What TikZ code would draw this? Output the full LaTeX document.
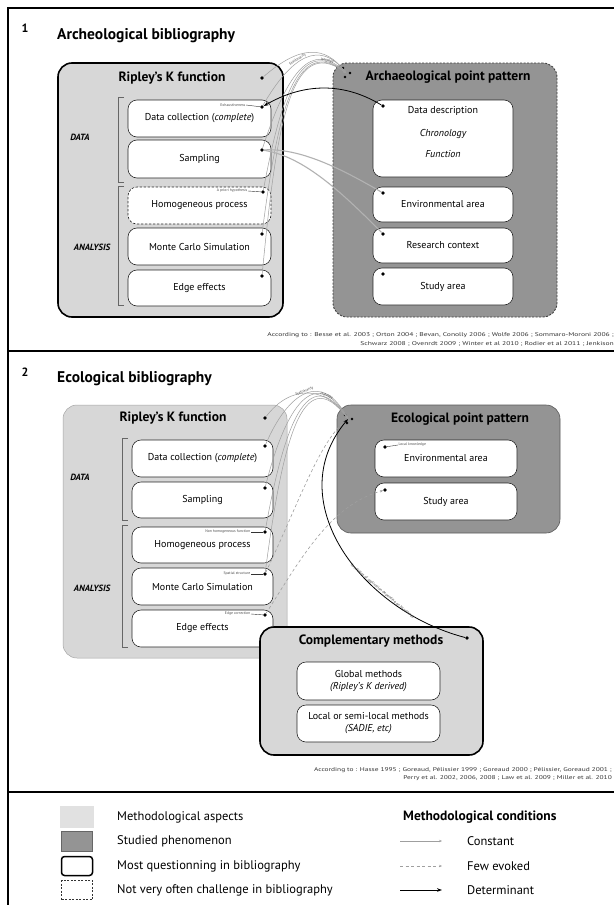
\documentclass[tikz,border=0pt]{standalone}
\usepackage{fontspec}
\setmainfont{PT Sans}
\usetikzlibrary{arrows.meta}
\definecolor{lightg}{HTML}{D7D7D7}
\definecolor{darkg}{HTML}{949494}
\begin{document}
\begin{tikzpicture}[x=1pt,y=-1pt,
 sz/.style 2 args={minimum width=#1pt, minimum height=#2pt},
 methbox/.style={draw=gray!70, line width=0.5pt, fill=lightg, rounded corners=14pt, inner sep=0pt},
 strong/.style={draw=black, line width=1.6pt},
 phenbox/.style={draw=gray!70!black, line width=0.6pt, fill=darkg, rounded corners=14pt, inner sep=0pt},
 phdash/.style={draw=black!75, line width=0.9pt, dash pattern=on 2pt off 1.5pt},
 inbox/.style={draw=black!85, line width=0.6pt, fill=white, rounded corners=9pt, inner sep=0pt, font=\fontsize{10}{12.5}\selectfont, align=center},
 btxt/.style={font=\fontsize{10}{12}\selectfont, inner sep=0pt},
 hdr/.style={font=\fontsize{13.5}{15}\selectfont\bfseries, inner sep=0pt},
 num/.style={font=\fontsize{12}{14}\selectfont\bfseries, inner sep=0pt},
 ptitle/.style={font=\fontsize{15.5}{17}\selectfont\bfseries, anchor=west, inner sep=0pt},
 side/.style={font=\fontsize{9}{10}\selectfont\bfseries\itshape, inner sep=0pt},
 dotn/.style={circle, fill=black, inner sep=0pt, minimum size=3.6pt},
 hdot/.style={circle, fill=black, inner sep=0pt, minimum size=2.8pt},
 cite/.style={font=\fontsize{5.5}{6.5}\selectfont, anchor=east, inner sep=0pt, text=black!80},
 tiny/.style={font=\fontsize{3.8}{4.2}\selectfont, text=black!70, inner sep=0.5pt},
 lab/.style={draw=black!80, line width=0.4pt},
 brk/.style={draw=black!60, line width=0.6pt},
 constant/.style={draw=gray!75, line width=0.5pt, -{Stealth[length=3pt,width=2.4pt]}},
 fewev/.style={draw=gray!75, line width=0.6pt, dash pattern=on 3pt off 2.5pt, -{Stealth[length=3pt,width=2.4pt]}},
 determ/.style={draw=black, line width=0.8pt, -{Stealth[length=5pt,width=3.6pt]}},
 grayln/.style={draw=gray!60, line width=1.1pt},
 legt/.style={font=\fontsize{12.5}{14}\selectfont, anchor=west, inner sep=0pt},
]
\path[use as bounding box, fill=white] (0,0) rectangle (614,905);
% frame
\draw[line width=1.1pt] (8,905) -- (8,8) -- (614,8);
\draw[line width=1.1pt] (8,351) -- (614,351);
\draw[line width=1.1pt] (8,792) -- (614,792);

% ================= Panel 1 =================
\node[num] (p1n) at (25,28) {1};
\node[ptitle] (p1t) at (57,36) {Archeological bibliography};
\node[methbox, strong, sz={225}{254}] (rip1) at (170.5,190) {};
\node[hdr] (rip1t) at (172,78) {Ripley’s K function};
\node[dotn] (rip1d) at (262,78) {};
\node[inbox, sz={143}{37}] (dc1) at (199.5,118.5) {Data collection (\textit{complete})};
\node[inbox, sz={143}{38}] (sa1) at (199.5,159) {Sampling};
\node[inbox, dash pattern=on 2.5pt off 1.5pt, sz={143}{37}] (hp1) at (199.5,205.5) {Homogeneous process};
\node[inbox, sz={143}{37}] (mc1) at (199.5,246.5) {Monte Carlo Simulation};
\node[inbox, sz={143}{36}] (ee1) at (199.5,288) {Edge effects};
\node[dotn] (dc1d) at (262,107) {};
\node[dotn] (sa1d) at (262,150) {};
\node[dotn] (hp1d) at (263,192) {};
\node[dotn] (mc1d) at (262,234) {};
\node[dotn] (ee1d) at (262,276) {};
\node[tiny, anchor=east] (dc1l) at (246,105) {Exhaustiveness};
\draw[lab] (dc1l.east) -- (dc1d);
\node[tiny, anchor=east] (hp1l) at (248,191) {A priori hypothesis};
\draw[lab] (hp1l.east) -- (hp1d);
\draw[brk] (124,97) -- (118,97) -- (118,182) -- (124,182);
\draw[brk] (124,186) -- (118,186) -- (118,305) -- (124,305);
\node[side] (data1) at (80,137) {DATA};
\node[side] (ana1) at (92,247) {ANALYSIS};

\node[phenbox, phdash, sz={224}{254}] (arch1) at (445,190) {};
\node[hdr] (arch1t) at (448,77) {Archaeological point pattern};
\node[inbox, sz={140}{77}] (dd1) at (443,138.5) {};
\node[btxt] (dd1a) at (443,111) {Data description};
\node[btxt, font=\fontsize{10}{12}\selectfont\itshape] (dd1b) at (443,134) {Chronology};
\node[btxt, font=\fontsize{10}{12}\selectfont\itshape] (dd1c) at (443,154) {Function};
\node[inbox, sz={140}{35}] (env1) at (443,204.5) {Environmental area};
\node[inbox, sz={140}{35}] (rc1) at (443,245.5) {Research context};
\node[inbox, sz={140}{37}] (st1) at (443,286.5) {Study area};
\node[dotn] (dd1d) at (383,106) {};
\node[dotn] (env1d) at (383,193) {};
\node[dotn] (rc1d) at (383,234) {};
\node[dotn] (st1d) at (383,274) {};
\coordinate (hub1) at (346,73);
\node[hdot] (h1a) at (343,68) {};
\node[hdot] (h1b) at (350,73) {};
\node[hdot] (h1c) at (345,77) {};

\draw[constant] (rip1d) .. controls (300,45) and (325,45) .. (hub1);
\draw[constant] (dc1d) .. controls (292,55) and (320,40) .. node[tiny, sloped, above, pos=0.42] {Stationarity} (hub1);
\draw[constant] (sa1d) .. controls (288,70) and (312,40) .. (hub1);
\draw[constant] (hp1d) .. controls (282,90) and (302,36) .. (hub1);
\draw[constant] (mc1d) .. controls (278,110) and (296,34) .. node[tiny, sloped, above, pos=0.86] {Isotropy} (hub1);
\draw[constant] (ee1d) .. controls (276,130) and (290,32) .. (hub1);
\draw[determ] (dd1d) .. controls (340,80) and (300,85) .. (dc1d);
\draw[grayln] (sa1d) .. controls (300,148) and (340,168) .. (env1d);
\draw[grayln] (sa1d) .. controls (300,156) and (335,185) .. (rc1d);

\node[cite] (c1a) at (614,335) {\scalebox{1.38}[1]{According to : Besse et al. 2003 ; Orton 2004 ; Bevan, Conolly 2006 ; Wolfe 2006 ; Sommaro-Moroni 2006 ;}};
\node[cite] (c1b) at (614,344) {\scalebox{1.38}[1]{Schwarz 2008 ; Ovenrdt 2009 ; Winter et al 2010 ; Rodier et al 2011 ; Jenkison}};

% ================= Panel 2 =================
\node[num] (p2n) at (25,372) {2};
\node[ptitle] (p2t) at (57,379) {Ecological bibliography};
\node[methbox, sz={224}{253}] (rip2) at (175,531.5) {};
\node[hdr] (rip2t) at (173,418) {Ripley’s K function};
\node[dotn] (rip2d) at (265,418) {};
\node[inbox, sz={141}{37}] (dc2) at (202.5,458.5) {Data collection (\textit{complete})};
\node[inbox, sz={141}{36}] (sa2) at (202.5,500) {Sampling};
\node[inbox, sz={141}{36}] (hp2) at (202.5,545) {Homogeneous process};
\node[inbox, sz={141}{37}] (mc2) at (202.5,586.5) {Monte Carlo Simulation};
\node[inbox, sz={141}{37}] (ee2) at (202.5,628.5) {Edge effects};
\node[dotn] (dc2d) at (265,446) {};
\node[dotn] (sa2d) at (265,488) {};
\node[dotn] (hp2d) at (265,532) {};
\node[dotn] (mc2d) at (265,574) {};
\node[dotn] (ee2d) at (265,615) {};
\node[tiny, anchor=east] (hp2l) at (251,532) {Non homogeneous function};
\draw[lab] (hp2l.east) -- (hp2d);
\node[tiny, anchor=east] (mc2l) at (251,574) {Spatial structure};
\draw[lab] (mc2l.east) -- (mc2d);
\node[tiny, anchor=east] (ee2l) at (251,614) {Edge correction};
\draw[lab] (ee2l.east) -- (ee2d);
\draw[brk] (128,438) -- (122,438) -- (122,520) -- (128,520);
\draw[brk] (128,525) -- (122,525) -- (122,647) -- (128,647);
\node[side] (data2) at (80,477) {DATA};
\node[side] (ana2) at (92,588) {ANALYSIS};

\node[phenbox, sz={223}{128}] (eco2) at (448.5,469) {};
\node[hdr] (eco2t) at (460,419) {Ecological point pattern};
\node[inbox, sz={142}{37}] (env2) at (446,458.5) {Environmental area};
\node[inbox, sz={142}{37}] (st2) at (446,501.5) {Study area};
\node[dotn] (env2d) at (385,447) {};
\node[dotn] (st2d) at (385,490) {};
\node[tiny, anchor=west] (env2l) at (398,445) {Local knowledge};
\draw[lab] (env2l.west) -- (env2d);
\coordinate (hub2) at (348,419);
\node[hdot] (h2a) at (345,415) {};
\node[hdot] (h2b) at (352,419) {};
\node[hdot] (h2c) at (347,423) {};

\draw[constant] (rip2d) .. controls (290,385) and (325,385) .. (hub2);
\draw[constant] (dc2d) .. controls (288,392) and (322,370) .. node[tiny, sloped, above, pos=0.5] {Stationarity} (hub2);
\draw[constant] (sa2d) .. controls (286,405) and (315,364) .. (hub2);
\draw[constant] (hp2d) .. controls (284,425) and (308,360) .. node[tiny, sloped, above, pos=0.8] {Isotropy} (hub2);
\draw[constant] (mc2d) .. controls (282,445) and (302,358) .. (hub2);
\draw[fewev] (ee2d) .. controls (300,560) and (330,505) .. (st2d);
\draw[fewev] (mc2d) .. controls (300,500) and (320,440) .. (hub2);

\node[methbox, strong, sz={223}{128}] (comp2) at (371.5,691) {};
\node[hdr] (comp2t) at (371,641) {Complementary methods};
\node[dotn] (comp2d) at (467,638) {};
\node[inbox, sz={143}{38}, font=\fontsize{10}{12}\selectfont] (gm2) at (368.5,681) {Global methods\\\textit{(Ripley’s K derived)}};
\node[inbox, sz={143}{37}, font=\fontsize{10}{12}\selectfont] (lm2) at (368.5,723.5) {Local or semi-local methods\\\textit{(SADIE, etc)}};
\draw[determ] (comp2d) .. controls (360,610) and (280,500) .. node[tiny, sloped, above, pos=0.3] {Conditions of application depending on hypothesis} (hub2);

\node[cite] (c2a) at (612,770) {\scalebox{1.35}[1]{According to : Hasse 1995 ; Goreaud, Pélissier 1999 ; Goreaud 2000 ; Pélissier, Goreaud 2001 ;}};
\node[cite] (c2b) at (612,778) {\scalebox{1.35}[1]{Perry et al. 2002, 2006, 2008 ; Law et al. 2009 ; Miller et al. 2010}};

% ================= Legend =================
\node[fill=lightg!75, inner sep=0pt, sz={34}{22}] (lg1) at (77,817) {};
\node[fill=darkg, draw=gray!80!black, line width=0.6pt, inner sep=0pt, sz={31}{20}] (lg2) at (77,841) {};
\node[fill=white, draw=black, line width=1.5pt, rounded corners=3pt, inner sep=0pt, sz={31}{19}] (lg3) at (77,866) {};
\node[fill=white, draw=black!80, line width=0.6pt, dash pattern=on 2pt off 1.5pt, inner sep=0pt, sz={31}{19}] (lg4) at (77,890) {};
\node[legt] (lt1) at (117,817) {Methodological aspects};
\node[legt] (lt2) at (117,841) {Studied phenomenon};
\node[legt] (lt3) at (117,866) {Most questionning in bibliography};
\node[legt] (lt4) at (117,890) {Not very often challenge in bibliography};
\node[legt, font=\fontsize{13.5}{15}\selectfont\bfseries] (lc) at (403,817) {Methodological conditions};
\coordinate (a1s) at (400,841); \coordinate (a1e) at (442,841);
\coordinate (a2s) at (400,866); \coordinate (a2e) at (442,866);
\coordinate (a3s) at (400,890); \coordinate (a3e) at (442,890);
\draw[constant] (a1s) -- (a1e);
\draw[fewev] (a2s) -- (a2e);
\draw[determ] (a3s) -- (a3e);
\node[legt] (lc1) at (467,841) {Constant};
\node[legt] (lc2) at (467,866) {Few evoked};
\node[legt] (lc3) at (467,890) {Determinant};
\end{tikzpicture}
\end{document}
